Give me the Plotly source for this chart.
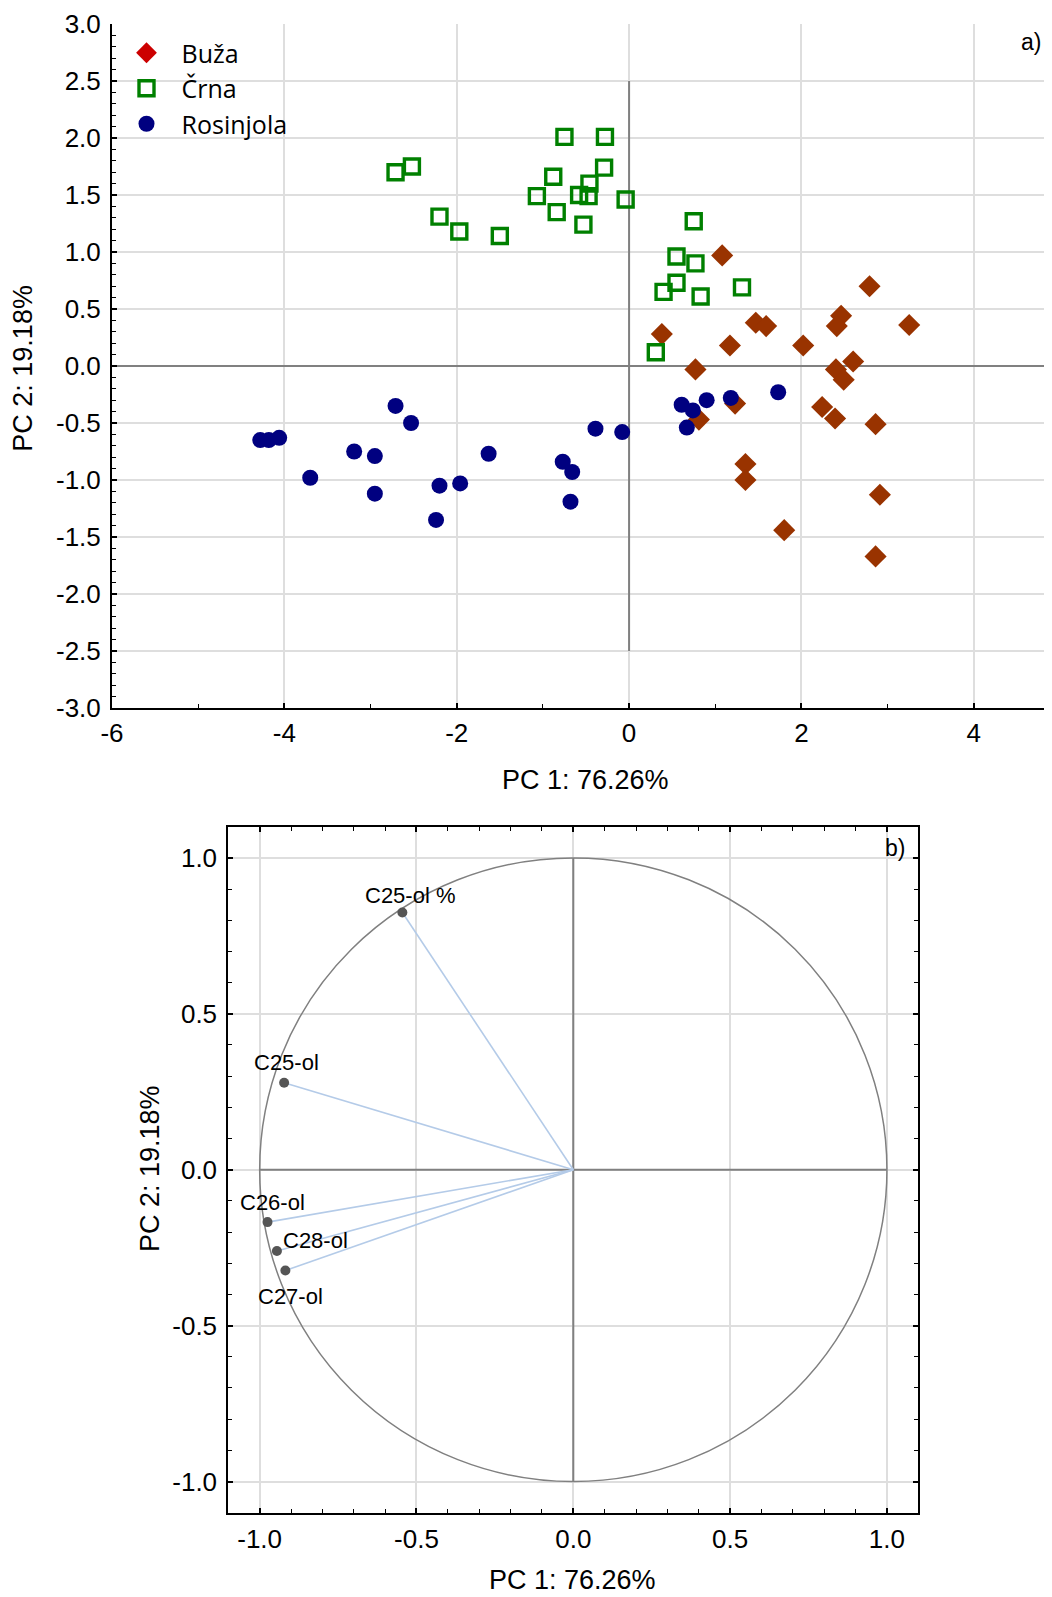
import plotly.graph_objects as go

# ---------------- data ----------------
buza_pc1 = [1.08, 2.79, 2.46, 2.41, 3.25, 1.47, 1.59, 0.38, 1.17, 2.02, 2.60, 2.40,
            2.49, 0.77, 1.23, 0.81, 2.24, 2.39, 2.86, 1.35, 1.35, 2.91, 1.80, 2.86]
buza_pc2 = [0.97, 0.70, 0.44, 0.35, 0.36, 0.38, 0.35, 0.28, 0.18, 0.18, 0.04, -0.03,
            -0.12, -0.03, -0.33, -0.47, -0.36, -0.46, -0.51, -0.86, -1.00, -1.13, -1.44, -1.67]

crna_pc1 = [-2.71, -2.52, -0.75, -0.28, -0.29, -0.88, -0.46, -0.58, -0.47, -1.07, -0.04, -0.84,
            -0.53, -2.20, -1.97, -1.50, 0.75, 0.55, 0.77, 0.55, 0.40, 0.83, 1.31, 0.31]
crna_pc2 = [1.70, 1.75, 2.01, 2.01, 1.74, 1.66, 1.60, 1.50, 1.49, 1.49, 1.46, 1.35,
            1.24, 1.31, 1.18, 1.14, 1.27, 0.96, 0.90, 0.73, 0.65, 0.61, 0.69, 0.12]

ros_pc1 = [-4.28, -4.18, -4.06, -3.70, -3.19, -2.95, -2.71, -2.53, -2.95, -2.20, -1.96, -2.24,
           -1.63, -0.77, -0.66, -0.68, -0.39, -0.08, 0.61, 0.74, 0.90, 1.18, 1.73, 0.67]
ros_pc2 = [-0.65, -0.65, -0.63, -0.98, -0.75, -0.79, -0.35, -0.50, -1.12, -1.05, -1.03, -1.35,
           -0.77, -0.84, -0.93, -1.19, -0.55, -0.58, -0.34, -0.39, -0.30, -0.28, -0.23, -0.54]

variables = ["C25-ol %", "C25-ol", "C26-ol", "C28-ol", "C27-ol"]
load_pc1 = [-0.545, -0.922, -0.975, -0.945, -0.918]
load_pc2 = [0.825, 0.279, -0.168, -0.261, -0.323]

x_title = "PC 1: 76.26%"
y_title = "PC 2: 19.18%"

# tick values (labels written with a plain hyphen, as in the reference)
a_xticks = [-6, -4, -2, 0, 2, 4]
a_yticks = [-3.0, -2.5, -2.0, -1.5, -1.0, -0.5, 0.0, 0.5, 1.0, 1.5, 2.0, 2.5, 3.0]
b_ticks = [-1.0, -0.5, 0.0, 0.5, 1.0]

# ---------------- styles ----------------
W, H = 1052, 1597
OFF = 8  # page body margin: figure is drawn 8 px right / down in the page
FONT = "Liberation Sans, Arial, sans-serif"
LEG_FONT = "Open Sans, sans-serif"
GRID = "#dedede"
AXIS_GRAY = "#808080"

label_offsets = {  # (xshift, yshift) in px for loading labels
    "C25-ol %": (8, 17),
    "C25-ol": (2, 20),
    "C26-ol": (5, 20),
    "C28-ol": (39, 11),
    "C27-ol": (5, -26),
}


def px_x(p):
    """page x pixel -> paper fraction"""
    return (p - OFF) / W


def px_y(p):
    """page y pixel -> paper fraction"""
    return 1 - (p - OFF) / H


fig = go.Figure()

# ---- panel a ----
fig.add_trace(go.Scatter(x=[None], y=[None], mode="markers", name="Buža",
                         marker=dict(symbol="diamond", color="#CC0000", size=16),
                         xaxis="x", yaxis="y"))
fig.add_trace(go.Scatter(x=buza_pc1, y=buza_pc2, mode="markers", name="Buža", showlegend=False,
                         marker=dict(symbol="diamond", color="#993300", size=17, line=dict(width=0)),
                         xaxis="x", yaxis="y"))
fig.add_trace(go.Scatter(x=crna_pc1, y=crna_pc2, mode="markers", name="Črna",
                         marker=dict(symbol="square-open", color="#008000", size=15,
                                     line=dict(width=3.4, color="#008000")),
                         xaxis="x", yaxis="y"))
fig.add_trace(go.Scatter(x=ros_pc1, y=ros_pc2, mode="markers", name="Rosinjola",
                         marker=dict(symbol="circle", color="#000080", size=16, line=dict(width=0)),
                         xaxis="x", yaxis="y"))

# ---- panel b ----
vx, vy = [], []
for a, b in zip(load_pc1, load_pc2):
    vx += [0, a, None]
    vy += [0, b, None]
fig.add_trace(go.Scatter(x=vx, y=vy, mode="lines", showlegend=False,
                         line=dict(color="#b4cbe8", width=1.6),
                         xaxis="x2", yaxis="y2", hoverinfo="skip"))
fig.add_trace(go.Scatter(x=load_pc1, y=load_pc2, mode="markers", showlegend=False,
                         text=variables,
                         marker=dict(symbol="circle", color="#555555", size=10),
                         xaxis="x2", yaxis="y2"))

tickfont = dict(family=FONT, size=26, color="black")

common_axis = dict(showline=True, linecolor="black", linewidth=2,
                   ticks="inside", tickcolor="black", tickwidth=1.5, ticklen=5,
                   showgrid=True, gridcolor=GRID, gridwidth=1.5,
                   zeroline=False, tickfont=tickfont, automargin=False,
                   tickmode="array")


def minor(d):
    return dict(tickmode="linear", tick0=0, dtick=d, ticks="inside", ticklen=4,
                tickcolor="black", tickwidth=1.2, showgrid=False)


fig.update_layout(
    template="none",
    width=W, height=H,
    autosize=False,
    margin=dict(l=0, r=0, t=0, b=0, pad=0, autoexpand=False),
    paper_bgcolor="white", plot_bgcolor="white",
    font=dict(family=FONT, color="black"),
    showlegend=True,
    legend=dict(x=px_x(111.5), y=px_y(30), xanchor="left", yanchor="top",
                bgcolor="rgba(0,0,0,0)", borderwidth=0,
                font=dict(family=LEG_FONT, size=25, color="black"),
                itemwidth=60, tracegroupgap=0),
    xaxis=dict(domain=[px_x(112), 1.0], anchor="y", range=[-6, 5],
               tickvals=a_xticks, ticktext=[f"{v:d}" for v in a_xticks],
               mirror=False, minor=minor(1), ticklabelstandoff=1, **common_axis),
    yaxis=dict(domain=[px_y(708), px_y(24)], anchor="x", range=[-3, 3],
               tickvals=a_yticks, ticktext=[f"{v:.1f}" for v in a_yticks],
               mirror=False, minor=minor(0.1), ticklabelstandoff=4, **common_axis),
    xaxis3=dict(overlaying="x", anchor="y", side="top", range=[-6, 5],
                showline=True, linecolor="black", linewidth=2, automargin=False,
                ticks="inside", tickcolor="black", tickwidth=1.5, ticklen=4,
                tickmode="linear", tick0=-6, dtick=0.69, showticklabels=False,
                showgrid=False, zeroline=False),
    xaxis2=dict(domain=[px_x(228.3), px_x(918.3)], anchor="y2", range=[-1.1, 1.1],
                tickvals=b_ticks, ticktext=[f"{v:.1f}" for v in b_ticks],
                mirror="allticks", minor=minor(0.1), ticklabelstandoff=2, **common_axis),
    yaxis2=dict(domain=[px_y(1512.7), px_y(826.7)], anchor="x2", range=[-1.1, 1.1],
                tickvals=b_ticks, ticktext=[f"{v:.1f}" for v in b_ticks],
                mirror="allticks", minor=minor(0.1), ticklabelstandoff=4, **common_axis),
)

# reference lines / unit circle
shapes = [
    dict(type="line", xref="x", yref="y", x0=-6, x1=5, y0=0, y1=0,
         line=dict(color=AXIS_GRAY, width=2), layer="between"),
    dict(type="line", xref="x", yref="y", x0=0, x1=0, y0=-2.5, y1=2.5,
         line=dict(color=AXIS_GRAY, width=2), layer="between"),
    dict(type="line", xref="x2", yref="y2", x0=-1, x1=1, y0=0, y1=0,
         line=dict(color=AXIS_GRAY, width=2), layer="between"),
    dict(type="line", xref="x2", yref="y2", x0=0, x1=0, y0=-1, y1=1,
         line=dict(color=AXIS_GRAY, width=2), layer="between"),
    dict(type="circle", xref="x2", yref="y2", x0=-1, x1=1, y0=-1, y1=1,
         line=dict(color=AXIS_GRAY, width=1.5), layer="between"),
]
fig.update_layout(shapes=shapes)

ann = []
for name, a, b in zip(variables, load_pc1, load_pc2):
    dx, dy = label_offsets[name]
    ann.append(dict(x=a, y=b, xref="x2", yref="y2", text=name, showarrow=False,
                    xshift=dx, yshift=dy, font=dict(family=FONT, size=22, color="black")))

title_font = dict(family=FONT, size=27, color="black")
ann += [
    dict(x=px_x(1043), y=px_y(42), xref="paper", yref="paper", text="a)", showarrow=False,
         xanchor="right", yanchor="middle", font=dict(family=FONT, size=23, color="black")),
    dict(x=px_x(907), y=px_y(848.5), xref="paper", yref="paper", text="b)", showarrow=False,
         xanchor="right", yanchor="middle", font=dict(family=FONT, size=23, color="black")),
    dict(x=px_x(585.6), y=px_y(780), xref="paper", yref="paper", text=x_title, showarrow=False,
         xanchor="center", yanchor="middle", font=title_font),
    dict(x=px_x(23), y=px_y(368.7), xref="paper", yref="paper", text=y_title, showarrow=False,
         textangle=-90, xanchor="center", yanchor="middle", font=title_font),
    dict(x=px_x(572.3), y=px_y(1580), xref="paper", yref="paper", text=x_title, showarrow=False,
         xanchor="center", yanchor="middle", font=title_font),
    dict(x=px_x(150), y=px_y(1169), xref="paper", yref="paper", text=y_title, showarrow=False,
         textangle=-90, xanchor="center", yanchor="middle", font=title_font),
]
fig.update_layout(annotations=ann)

fig.write_html("out.html")
